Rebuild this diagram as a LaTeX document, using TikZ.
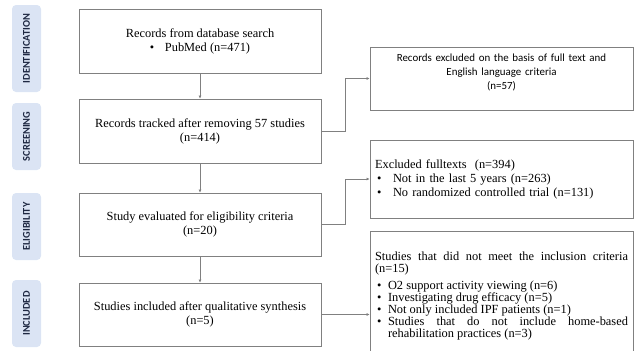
\documentclass[tikz,border=0pt]{standalone}
\usepackage{fontspec}
\setmainfont{Liberation Serif}
\newfontfamily\calibri{Carlito}
\usepackage{tikz}
\usetikzlibrary{positioning, arrows.meta}
\definecolor{PhaseBlue}{RGB}{219,228,244}
\definecolor{PhaseText}{RGB}{30,40,66}
\definecolor{BoxGrey}{RGB}{128,128,128}
\newcommand{\listbullet}[2]{\par\hangindent=#1\hangafter=1\noindent\makebox[#1][l]{\hspace{1.5pt}\textbullet}#2\par}

\begin{document}
\begin{tikzpicture}[
  x=0.75pt, y=-0.75pt,
  font=\fontsize{9.3}{10.5}\selectfont,
  phase/.style={fill=PhaseBlue, rounded corners=3pt, rotate=90, minimum height=21.75pt,
    inner sep=0pt, text=PhaseText, font=\calibri\bfseries\fontsize{7.8}{8}\selectfont},
  mainbox/.style={draw=BoxGrey, line width=0.6pt, minimum width=181.5pt, minimum height=48pt,
    align=center, inner sep=2pt},
  sidebox/.style={draw=BoxGrey, line width=0.6pt, minimum width=197.25pt, inner sep=3.75pt,
    text width=189.75pt},
  link/.style={draw=BoxGrey, line width=0.6pt, -{Latex[length=2.2pt,width=2.2pt]}},
]
\useasboundingbox (0,0) rectangle (634,350);

% Phase labels
\node[phase, minimum width=65.25pt] (idn) at (26.5,48.5) {IDENTIFICATION};
\node[phase, minimum width=50.25pt] (scr) at (26.5,136.5) {SCREENING};
\node[phase, minimum width=50.25pt] (elg) at (26.5,226.5) {ELIGIBILITY};
\node[phase, minimum width=50.25pt] (inc) at (26.5,313.5) {INCLUDED};

% Main column
\node[mainbox] (records) at (200,41) {Records from database search\\ \textbullet\hspace{8pt}PubMed (n=471)};
\node[mainbox] (tracked) at (200,131) {Records tracked after removing 57 studies\\(n=414)};
\node[mainbox, minimum height=47.25pt] (evaluated) at (200,224.5) {Study evaluated for eligibility criteria\\(n=20)};
\node[mainbox, minimum height=47.25pt] (included) at (200,314.5) {Studies included after qualitative synthesis\\(n=5)};

% Exclusion column
\node[sidebox, minimum height=47.25pt, align=center, font=\calibri\fontsize{8.2}{10.5}\selectfont] (excl) at (501.5,78.5)
  {Records excluded on the basis of full text and\\English language criteria\\(n=57)\\~};
\node[sidebox, minimum height=58.5pt, align=left] (fulltext) at (501.5,179)
  {Excluded fulltexts~~(n=394)
   \listbullet{13.5pt}{Not in the last 5 years (n=263)}
   \listbullet{13.5pt}{No randomized controlled trial (n=131)}};
\node[sidebox, minimum height=97.5pt, align=justify, font=\fontsize{9.3}{9.1}\selectfont] (criteria) at (501.5,296)
  {Studies that did not meet the inclusion criteria\linebreak (n=15)\par\vspace{3.5pt}
   \listbullet{9.75pt}{O2 support activity viewing (n=6)}
   \listbullet{9.75pt}{Investigating drug efficacy (n=5)}
   \listbullet{9.75pt}{Not only included IPF patients (n=1)}
   \listbullet{9.75pt}{Studies that do not include home-based\linebreak rehabilitation practices (n=3)}};

% Connectors
\draw[link] (records.south) -- (tracked.north);
\draw[link] (tracked.south) -- (evaluated.north);
\draw[link] (evaluated.south) -- (included.north);
\draw[link] (tracked.east) -- ++(24,0) |- (excl.west);
\draw[link] (evaluated.east) -- ++(24,0) |- (fulltext.west);
\draw[link] (included.east) -- (criteria.west |- included.east);

\end{tikzpicture}
\end{document}
